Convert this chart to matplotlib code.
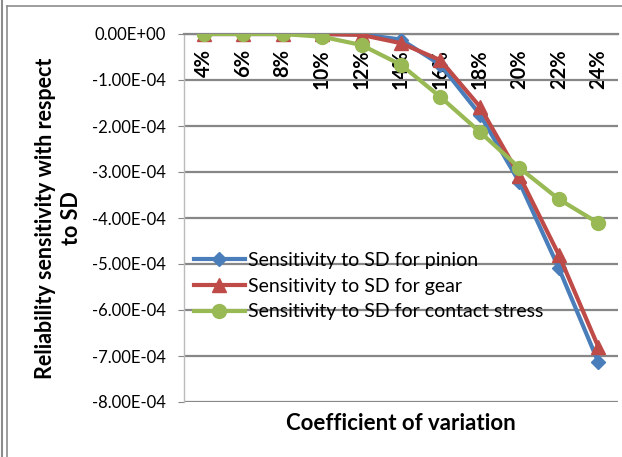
import matplotlib
matplotlib.use("Agg")
import matplotlib.pyplot as plt
from matplotlib.ticker import MultipleLocator, FuncFormatter
from matplotlib.lines import Line2D

plt.rcParams['font.family'] = ['Lato', 'DejaVu Sans']

categories = ["4%", "6%", "8%", "10%", "12%", "14%", "16%", "18%", "20%", "22%", "24%"]
pinion = [0.0, 0.0, 0.0, 0.0, -0.01e-4, -0.12e-4, -0.67e-4, -1.75e-4, -3.22e-4, -5.09e-4, -7.13e-4]
gear = [0.0, 0.0, 0.0, 0.0, -0.02e-4, -0.20e-4, -0.57e-4, -1.58e-4, -3.08e-4, -4.80e-4, -6.80e-4]
contact = [0.0, 0.0, 0.0, -0.06e-4, -0.24e-4, -0.67e-4, -1.37e-4, -2.13e-4, -2.91e-4, -3.59e-4, -4.11e-4]

W, H = 622, 457
fig = plt.figure(figsize=(W / 100, H / 100), dpi=100)
ax = fig.add_axes([184 / W, 1 - 402 / H, (618 - 184) / W, (402 - 34) / H])

x = list(range(len(categories)))
blue, red, green = "#4A7EBB", "#BE4B48", "#98B954"
ax.plot(x, pinion, color=blue, lw=3, marker="D", ms=7, label="Sensitivity to SD for pinion", zorder=3)
ax.plot(x, gear, color=red, lw=3, marker="^", ms=10, label="Sensitivity to SD for gear", zorder=4)
ax.plot(x, contact, color=green, lw=3, marker="o", ms=10, label="Sensitivity to SD for contact stress", zorder=5)

ax.set_xlim(-0.5, len(categories) - 0.5)
ax.set_ylim(-8e-4, 0)
ax.yaxis.set_major_locator(MultipleLocator(1e-4))
ax.yaxis.set_major_formatter(FuncFormatter(lambda v, p: "%.2E" % (0.0 if abs(v) < 1e-12 else v)))
ax.grid(axis="y", color="#878787", lw=1.6)
ax.set_axisbelow(True)

# category axis crosses at zero, labels hang inside the plot
ax.spines["bottom"].set_position(("data", 0))
ax.spines["bottom"].set_color("#878787")
ax.spines["bottom"].set_linewidth(1.6)
ax.spines["top"].set_visible(False)
ax.spines["right"].set_visible(False)
ax.spines["left"].set_color("#BBBBBB")
ax.spines["left"].set_linestyle((0, (1, 1)))
ax.spines["left"].set_linewidth(1)
ax.set_xticks(x)
ax.set_xticklabels(categories, rotation=90, fontweight="bold", fontsize=14.5, va="top")
ax.tick_params(axis="x", length=0, pad=11)
ax.tick_params(axis="y", length=4, color="#878787", labelsize=12, pad=9)

ax.set_xlabel("Coefficient of variation", fontsize=16, fontweight="bold")
ax.xaxis.set_label_coords(0.5, -0.03)
ax.set_ylabel("Reliability sensitivity with respect\nto SD", fontsize=15.5, fontweight="bold",
              linespacing=1.3)
ax.yaxis.set_label_coords(-0.235, 0.5)

leg = ax.legend(loc="upper left", bbox_to_anchor=(-0.008, 0.445), frameon=False, fontsize=14,
                handlelength=2.6, handletextpad=0.15, labelspacing=0.45, borderaxespad=0.3)

# chart frame edges
fig.add_artist(Line2D([7 / W, 7 / W], [0, 1 - 6 / H], transform=fig.transFigure, color="#8C8C8C", lw=1.2))
fig.add_artist(Line2D([7 / W, 1], [1 - 6 / H, 1 - 6 / H], transform=fig.transFigure, color="#8C8C8C", lw=1.2))
fig.add_artist(Line2D([1.5 / W, 1.5 / W], [0, 1], transform=fig.transFigure, color="#8C8C8C", lw=1.5))

fig.savefig("out.png", dpi=100)
